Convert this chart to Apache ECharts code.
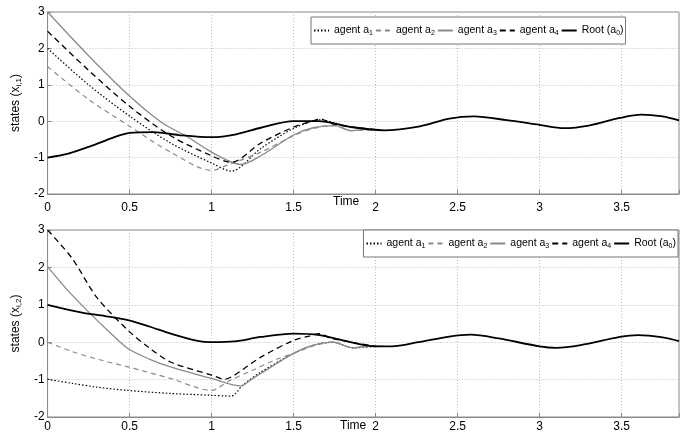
<!DOCTYPE html>
<html>
<head>
<meta charset="utf-8">
<script src="https://cdn.jsdelivr.net/npm/echarts@6/dist/echarts.min.js"></script>
<style>
  html, body { margin: 0; padding: 0; background: #fff; }
  #chart { width: 697px; height: 434px; }
</style>
</head>
<body>
<div id="chart"></div>
<script>
// series names and tick labels
const names = ['agent a1', 'agent a2', 'agent a3', 'agent a4', 'Root (a0)'];
const xTicks = [0, 0.5, 1, 1.5, 2, 2.5, 3, 3.5];
const yTicks = [-2, -1, 0, 1, 2, 3];

// top plot: states (x_i,1), [time, value]
const top_a1 = [[0,2.0],[0.25,1.0],[0.5,0.14],[0.75,-0.6],[1.0,-1.15],[1.12,-1.37],[1.3,-0.75],[1.5,-0.2],[1.67,0.04],[1.75,-0.05],[1.85,-0.16],[2.0,-0.23]];
const top_a2 = [[0,1.5],[0.25,0.6],[0.5,-0.14],[0.75,-0.85],[1.0,-1.35],[1.1,-1.2],[1.3,-0.85],[1.5,-0.4],[1.62,-0.2],[1.75,-0.12],[1.85,-0.26],[2.0,-0.23]];
const top_a3 = [[0,3.0],[0.25,1.8],[0.5,0.69],[0.7,-0.05],[0.85,-0.42],[1.0,-0.85],[1.18,-1.19],[1.3,-0.95],[1.5,-0.38],[1.62,-0.18],[1.75,-0.12],[1.85,-0.26],[1.93,-0.23],[2.05,-0.25]];
const top_a4 = [[0,2.47],[0.25,1.4],[0.5,0.41],[0.75,-0.4],[1.0,-0.95],[1.12,-1.13],[1.3,-0.6],[1.5,-0.16],[1.6,-0.02],[1.67,0.06],[1.72,-0.05],[1.85,-0.16],[2.0,-0.23]];
const top_a0 = [[0,-1.0],[0.12,-0.9],[0.26,-0.69],[0.4,-0.45],[0.5,-0.32],[0.65,-0.3],[0.8,-0.38],[1.0,-0.44],[1.15,-0.36],[1.3,-0.18],[1.5,0.0],[1.65,0.0],[1.85,-0.16],[2.05,-0.25],[2.27,-0.14],[2.45,0.07],[2.6,0.13],[2.8,0.03],[3.0,-0.1],[3.15,-0.19],[3.3,-0.12],[3.49,0.09],[3.62,0.18],[3.75,0.13],[3.85,0.02]];

// bottom plot: states (x_i,2)
const bot_a1 = [[0,-0.99],[0.15,-1.1],[0.3,-1.2],[0.49,-1.29],[0.75,-1.37],[1.0,-1.42],[1.12,-1.44],[1.19,-1.15],[1.3,-0.8],[1.5,-0.3],[1.62,-0.08],[1.74,0.0],[1.86,-0.15],[2.0,-0.11]];
const bot_a2 = [[0,0.0],[0.15,-0.25],[0.3,-0.45],[0.49,-0.66],[0.75,-0.97],[1.0,-1.29],[1.1,-1.05],[1.25,-0.75],[1.4,-0.45],[1.5,-0.3],[1.62,-0.1],[1.74,0.0],[1.86,-0.15],[2.0,-0.11]];
const bot_a3 = [[0,2.02],[0.12,1.4],[0.25,0.81],[0.37,0.3],[0.49,-0.17],[0.62,-0.45],[0.75,-0.66],[1.0,-0.97],[1.18,-1.17],[1.24,-1.0],[1.35,-0.7],[1.5,-0.3],[1.62,-0.08],[1.74,0.0],[1.86,-0.15],[1.95,-0.1],[2.05,-0.11]];
const bot_a4 = [[0,3.0],[0.15,2.24],[0.3,1.2],[0.49,0.32],[0.62,-0.15],[0.75,-0.53],[1.0,-0.88],[1.08,-0.99],[1.14,-0.88],[1.3,-0.4],[1.5,0.05],[1.6,0.17],[1.66,0.23],[1.72,0.12],[1.85,0.0],[2.0,-0.11]];
const bot_a0 = [[0,1.0],[0.21,0.79],[0.35,0.7],[0.49,0.59],[0.62,0.42],[0.75,0.23],[0.9,0.05],[1.0,0.0],[1.14,0.02],[1.3,0.14],[1.5,0.23],[1.66,0.19],[1.8,0.05],[2.0,-0.11],[2.1,-0.11],[2.26,0.0],[2.45,0.15],[2.58,0.2],[2.75,0.1],[3.0,-0.11],[3.1,-0.15],[3.25,-0.08],[3.49,0.14],[3.6,0.19],[3.75,0.13],[3.85,0.03]];

const GREY = '#8a8a8a';
const FONT = 'Liberation Sans';
const styles = [
  { color: '#000', type: [1.5, 2], width: 1.2 },
  { color: GREY, type: [5, 4], width: 1.2 },
  { color: GREY, type: 'solid', width: 1.3 },
  { color: '#000', type: [6, 4], width: 1.3 },
  { color: '#000', type: 'solid', width: 1.8 }
];

const chart = echarts.init(document.getElementById('chart'));

const subRich = {
  t: { fontSize: 12, fontFamily: FONT, color: '#000', lineHeight: 14 },
  s: { fontSize: 8, fontFamily: FONT, color: '#000', lineHeight: 14, padding: [7, 0, 0, 0] }
};
const legRich = {
  t: { fontSize: 10.5, fontFamily: FONT, color: '#000', lineHeight: 14 },
  s: { fontSize: 7, fontFamily: FONT, color: '#000', lineHeight: 14, padding: [6, 0, 0, 0] }
};

function legendText(name) {
  if (name === 'Root (a0)') return '{t|Root (a}{s|0}{t|)}';
  return '{t|agent a}{s|' + name.slice(-1) + '}';
}

function xAxis(gi, margin) {
  return {
    type: 'value', gridIndex: gi, min: 0, max: 3.85, interval: 0.5,
    axisLine: { show: true, onZero: false, lineStyle: { color: GREY } },
    axisTick: { inside: true, length: 4, lineStyle: { color: GREY } },
    axisLabel: { margin: margin, color: '#000', fontSize: 12, fontFamily: FONT,
      formatter: v => (xTicks.indexOf(v) >= 0 ? String(v) : '') },
    splitLine: { show: true, lineStyle: { color: '#bdbdbd', type: [1, 2] } }
  };
}

function yAxis(gi, label) {
  return {
    type: 'value', gridIndex: gi, min: yTicks[0], max: yTicks[yTicks.length - 1], interval: 1,
    axisLine: { show: true, onZero: false, lineStyle: { color: GREY } },
    axisTick: { inside: true, length: 4, lineStyle: { color: GREY } },
    axisLabel: { margin: 3, color: '#000', fontSize: 12, fontFamily: FONT },
    splitLine: { show: true, lineStyle: { color: '#bdbdbd', type: [1, 2] } },
    name: '{t|states (x}{s|' + label + '}{t|)}',
    nameLocation: 'middle', nameGap: 18, nameRotate: 90,
    nameTextStyle: { rich: subRich }
  };
}

function legend(pos) {
  return Object.assign({
    width: 500,
    data: names, orient: 'horizontal',
    itemWidth: 15, itemHeight: 10, itemGap: 2, itemTextGap: 2,
    padding: [7, 2],
    borderColor: '#777', borderWidth: 1, backgroundColor: '#fff',
    itemStyle: { opacity: 0 },
    formatter: legendText,
    textStyle: { rich: legRich }
  }, pos);
}

const topData = [top_a1, top_a2, top_a3, top_a4, top_a0];
const botData = [bot_a1, bot_a2, bot_a3, bot_a4, bot_a0];
const series = [];
[topData, botData].forEach((set, gi) => {
  set.forEach((d, i) => {
    series.push({
      name: names[i], type: 'line', xAxisIndex: gi, yAxisIndex: gi,
      data: d, showSymbol: false, symbol: 'none', smooth: 0.3,
      z: i === 4 ? 3 : 2,
      lineStyle: styles[i], itemStyle: { color: styles[i].color },
      animation: false
    });
  });
});

const option = {
  animation: false,
  grid: [
    { left: 40, right: 18, top: 12, height: 182, show: true, borderColor: GREY, borderWidth: 1 },
    { left: 41, right: 18, top: 230, height: 187, show: true, borderColor: GREY, borderWidth: 1 }
  ],
  xAxis: [xAxis(0, 8), xAxis(1, 4)],
  yAxis: [yAxis(0, 'i,1'), yAxis(1, 'i,2')],
  legend: [legend({ left: 311, top: 17 }), legend({ right: 19, top: 230 })],
  graphic: [
    { type: 'text', left: 333, top: 196, style: { text: 'Time', fontSize: 12, fontFamily: FONT, fill: '#000' } },
    { type: 'text', left: 340, top: 420, style: { text: 'Time', fontSize: 12, fontFamily: FONT, fill: '#000' } }
  ],
  series: series
};

chart.setOption(option);
</script>
</body>
</html>
